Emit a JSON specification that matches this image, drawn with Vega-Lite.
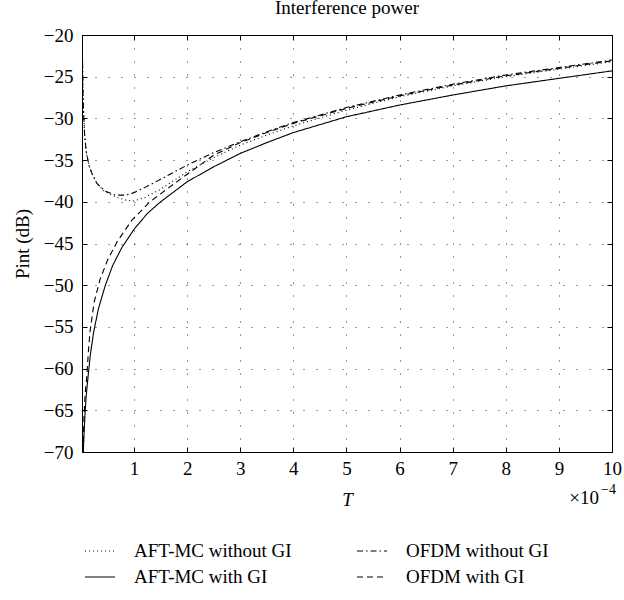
{
  "$schema": "https://vega.github.io/schema/vega-lite/v6.json",
  "width": 530,
  "height": 417,
  "autosize": {"type": "none"},
  "padding": {"left": 82, "top": 35, "right": 12, "bottom": 148},
  "background": "white",
  "title": {"text": "Interference power", "fontSize": 19, "fontWeight": "normal", "font": "Liberation Serif", "color": "#000", "offset": 8},
  "config": {
    "font": "Liberation Serif",
    "view": {"stroke": "#000", "strokeWidth": 1},
    "axis": {
      "labelFont": "Liberation Serif", "labelFontSize": 19, "labelColor": "#000",
      "titleFont": "Liberation Serif", "titleFontSize": 19, "titleColor": "#000", "titleFontWeight": "normal",
      "domain": false,
      "ticks": true, "tickSize": -5, "tickColor": "#000",
      "grid": true, "gridColor": "#000", "gridDash": [1, 12], "gridOpacity": 0.8, "gridWidth": 1
    },
    "legend": {
      "labelFont": "Liberation Serif", "labelFontSize": 19, "labelColor": "#000"
    }
  },
  "resolve": {"axis": {"x": "independent", "y": "independent"}},
  "layer": [
    {
      "data": {"values": [
        {"series": "AFT-MC with GI", "T": 0.045, "P": -70},
        {"series": "AFT-MC with GI", "T": 0.05, "P": -69.2},
        {"series": "AFT-MC with GI", "T": 0.06, "P": -67.6},
        {"series": "AFT-MC with GI", "T": 0.08, "P": -65.1},
        {"series": "AFT-MC with GI", "T": 0.1, "P": -63.2},
        {"series": "AFT-MC with GI", "T": 0.14, "P": -60.6},
        {"series": "AFT-MC with GI", "T": 0.18, "P": -58.2},
        {"series": "AFT-MC with GI", "T": 0.24, "P": -55.6},
        {"series": "AFT-MC with GI", "T": 0.33, "P": -52.8},
        {"series": "AFT-MC with GI", "T": 0.46, "P": -50.0},
        {"series": "AFT-MC with GI", "T": 0.6, "P": -47.6},
        {"series": "AFT-MC with GI", "T": 0.77, "P": -45.5},
        {"series": "AFT-MC with GI", "T": 1.0, "P": -43.3},
        {"series": "AFT-MC with GI", "T": 1.25, "P": -41.4},
        {"series": "AFT-MC with GI", "T": 1.5, "P": -40.0},
        {"series": "AFT-MC with GI", "T": 2.0, "P": -37.6},
        {"series": "AFT-MC with GI", "T": 2.5, "P": -35.8},
        {"series": "AFT-MC with GI", "T": 3.0, "P": -34.2},
        {"series": "AFT-MC with GI", "T": 3.5, "P": -32.9},
        {"series": "AFT-MC with GI", "T": 4.0, "P": -31.7},
        {"series": "AFT-MC with GI", "T": 5.0, "P": -29.8},
        {"series": "AFT-MC with GI", "T": 6.0, "P": -28.4},
        {"series": "AFT-MC with GI", "T": 7.0, "P": -27.2},
        {"series": "AFT-MC with GI", "T": 8.0, "P": -26.1},
        {"series": "AFT-MC with GI", "T": 9.0, "P": -25.2},
        {"series": "AFT-MC with GI", "T": 10.0, "P": -24.3},

        {"series": "OFDM with GI", "T": 0.04, "P": -70},
        {"series": "OFDM with GI", "T": 0.05, "P": -67.5},
        {"series": "OFDM with GI", "T": 0.06, "P": -65.5},
        {"series": "OFDM with GI", "T": 0.08, "P": -63.0},
        {"series": "OFDM with GI", "T": 0.11, "P": -61.0},
        {"series": "OFDM with GI", "T": 0.14, "P": -58.0},
        {"series": "OFDM with GI", "T": 0.17, "P": -55.6},
        {"series": "OFDM with GI", "T": 0.25, "P": -52.0},
        {"series": "OFDM with GI", "T": 0.36, "P": -49.3},
        {"series": "OFDM with GI", "T": 0.5, "P": -47.0},
        {"series": "OFDM with GI", "T": 0.68, "P": -44.8},
        {"series": "OFDM with GI", "T": 0.96, "P": -42.2},
        {"series": "OFDM with GI", "T": 1.3, "P": -40.0},
        {"series": "OFDM with GI", "T": 1.74, "P": -37.9},
        {"series": "OFDM with GI", "T": 2.0, "P": -36.7},
        {"series": "OFDM with GI", "T": 2.5, "P": -34.4},
        {"series": "OFDM with GI", "T": 3.0, "P": -32.9},
        {"series": "OFDM with GI", "T": 3.5, "P": -31.7},
        {"series": "OFDM with GI", "T": 4.0, "P": -30.6},
        {"series": "OFDM with GI", "T": 5.0, "P": -28.8},
        {"series": "OFDM with GI", "T": 6.0, "P": -27.3},
        {"series": "OFDM with GI", "T": 7.0, "P": -26.0},
        {"series": "OFDM with GI", "T": 8.0, "P": -24.9},
        {"series": "OFDM with GI", "T": 9.0, "P": -24.0},
        {"series": "OFDM with GI", "T": 10.0, "P": -23.1},

        {"series": "OFDM without GI", "T": 0.02, "P": -20.0},
        {"series": "OFDM without GI", "T": 0.03, "P": -23.5},
        {"series": "OFDM without GI", "T": 0.04, "P": -27.0},
        {"series": "OFDM without GI", "T": 0.05, "P": -29.3},
        {"series": "OFDM without GI", "T": 0.07, "P": -32.0},
        {"series": "OFDM without GI", "T": 0.1, "P": -34.0},
        {"series": "OFDM without GI", "T": 0.15, "P": -35.6},
        {"series": "OFDM without GI", "T": 0.2, "P": -36.5},
        {"series": "OFDM without GI", "T": 0.3, "P": -37.8},
        {"series": "OFDM without GI", "T": 0.45, "P": -38.7},
        {"series": "OFDM without GI", "T": 0.65, "P": -39.2},
        {"series": "OFDM without GI", "T": 0.85, "P": -39.2},
        {"series": "OFDM without GI", "T": 1.0, "P": -38.9},
        {"series": "OFDM without GI", "T": 1.2, "P": -38.3},
        {"series": "OFDM without GI", "T": 1.5, "P": -37.3},
        {"series": "OFDM without GI", "T": 2.0, "P": -35.6},
        {"series": "OFDM without GI", "T": 2.5, "P": -34.1},
        {"series": "OFDM without GI", "T": 3.0, "P": -32.8},
        {"series": "OFDM without GI", "T": 3.5, "P": -31.6},
        {"series": "OFDM without GI", "T": 4.0, "P": -30.5},
        {"series": "OFDM without GI", "T": 5.0, "P": -28.7},
        {"series": "OFDM without GI", "T": 6.0, "P": -27.2},
        {"series": "OFDM without GI", "T": 7.0, "P": -25.9},
        {"series": "OFDM without GI", "T": 8.0, "P": -24.8},
        {"series": "OFDM without GI", "T": 9.0, "P": -23.9},
        {"series": "OFDM without GI", "T": 10.0, "P": -23.0},

        {"series": "AFT-MC without GI", "T": 0.02, "P": -20.0},
        {"series": "AFT-MC without GI", "T": 0.03, "P": -23.5},
        {"series": "AFT-MC without GI", "T": 0.04, "P": -27.0},
        {"series": "AFT-MC without GI", "T": 0.05, "P": -29.3},
        {"series": "AFT-MC without GI", "T": 0.07, "P": -32.0},
        {"series": "AFT-MC without GI", "T": 0.1, "P": -34.0},
        {"series": "AFT-MC without GI", "T": 0.15, "P": -35.6},
        {"series": "AFT-MC without GI", "T": 0.2, "P": -36.5},
        {"series": "AFT-MC without GI", "T": 0.3, "P": -37.8},
        {"series": "AFT-MC without GI", "T": 0.45, "P": -38.8},
        {"series": "AFT-MC without GI", "T": 0.65, "P": -39.4},
        {"series": "AFT-MC without GI", "T": 0.85, "P": -39.8},
        {"series": "AFT-MC without GI", "T": 1.0, "P": -39.9},
        {"series": "AFT-MC without GI", "T": 1.2, "P": -39.5},
        {"series": "AFT-MC without GI", "T": 1.5, "P": -38.5},
        {"series": "AFT-MC without GI", "T": 2.0, "P": -36.4},
        {"series": "AFT-MC without GI", "T": 2.5, "P": -34.7},
        {"series": "AFT-MC without GI", "T": 3.0, "P": -33.2},
        {"series": "AFT-MC without GI", "T": 3.5, "P": -32.0},
        {"series": "AFT-MC without GI", "T": 4.0, "P": -30.9},
        {"series": "AFT-MC without GI", "T": 5.0, "P": -29.0},
        {"series": "AFT-MC without GI", "T": 6.0, "P": -27.4},
        {"series": "AFT-MC without GI", "T": 7.0, "P": -26.1},
        {"series": "AFT-MC without GI", "T": 8.0, "P": -25.0},
        {"series": "AFT-MC without GI", "T": 9.0, "P": -24.1},
        {"series": "AFT-MC without GI", "T": 10.0, "P": -23.2}
      ]},
      "mark": {"type": "line", "color": "#000", "strokeWidth": 1.1, "clip": true},
      "encoding": {
        "x": {
          "field": "T", "type": "quantitative",
          "scale": {"domain": [0.02, 10], "nice": false, "zero": false},
          "axis": {"values": [1, 2, 3, 4, 5, 6, 7, 8, 9, 10], "title": "T", "titleFontStyle": "italic", "labelFlush": false, "labelPadding": 12, "titlePadding": 12}
        },
        "y": {
          "field": "P", "type": "quantitative",
          "scale": {"domain": [-70, -20], "nice": false, "zero": false},
          "axis": {"values": [-70, -65, -60, -55, -50, -45, -40, -35, -30, -25, -20], "title": "Pint (dB)", "labelExpr": "replace(format(datum.value, 'd'), '-', '−')", "labelPadding": 14, "titlePadding": 11}
        },
        "strokeDash": {
          "field": "series", "type": "nominal",
          "scale": {
            "domain": ["AFT-MC without GI", "OFDM without GI", "AFT-MC with GI", "OFDM with GI"],
            "range": [[1, 3], [6, 3, 1.5, 3], [1, 0], [6, 4]]
          },
          "legend": {
            "title": null, "orient": "none", "legendX": 2, "legendY": 500,
            "direction": "horizontal", "columns": 2, "columnPadding": 62, "rowPadding": -13,
            "symbolType": "stroke", "symbolSize": 900, "symbolStrokeWidth": 1.1, "symbolStrokeColor": "#000",
            "labelOffset": 18, "padding": 0
          }
        }
      }
    },
    {
      "data": {"values": [{"T": 10, "P": -70, "label": "×10"}]},
      "mark": {"type": "text", "align": "right", "baseline": "middle", "dx": -13, "dy": 46, "fontSize": 19, "font": "Liberation Serif", "color": "#000"},
      "encoding": {
        "x": {"field": "T", "type": "quantitative", "axis": null},
        "y": {"field": "P", "type": "quantitative", "axis": null},
        "text": {"field": "label"}
      }
    },
    {
      "data": {"values": [{"T": 10, "P": -70, "label": "−4"}]},
      "mark": {"type": "text", "align": "left", "baseline": "middle", "dx": -11, "dy": 38, "fontSize": 14, "font": "Liberation Serif", "color": "#000"},
      "encoding": {
        "x": {"field": "T", "type": "quantitative", "axis": null},
        "y": {"field": "P", "type": "quantitative", "axis": null},
        "text": {"field": "label"}
      }
    },
    {
      "data": {"values": [{"T": 10, "P": -70}]},
      "mark": {"type": "point", "opacity": 0},
      "encoding": {
        "x": {"field": "T", "type": "quantitative", "axis": {"orient": "top", "values": [1, 2, 3, 4, 5, 6, 7, 8, 9, 10], "labels": false, "grid": false, "title": null}},
        "y": {"field": "P", "type": "quantitative", "axis": {"orient": "right", "values": [-70, -65, -60, -55, -50, -45, -40, -35, -30, -25, -20], "labels": false, "grid": false, "title": null}}
      }
    }
  ]
}
